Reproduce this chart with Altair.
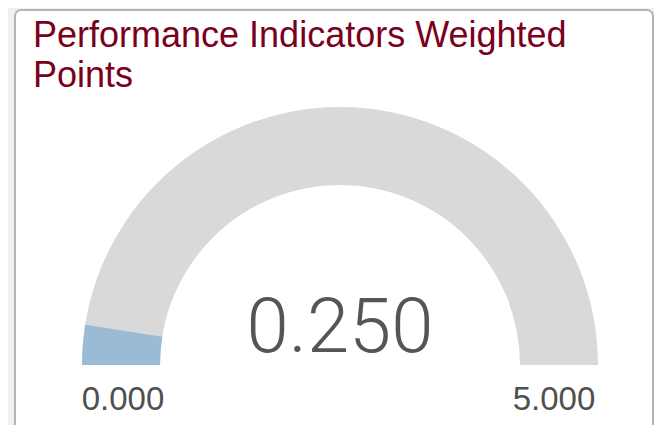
import math
import altair as alt
import pandas as pd

# ---- data ----
title_lines = ["Performance Indicators Weighted", "Points"]
gauge_min = [0.0]
gauge_max = [5.0]
gauge_value = [0.25]

W, H = 646, 417
CX, CY = 332, 357          # gauge centre (chart px)
R_OUT, R_IN = 258, 180

track_df = pd.DataFrame({"start": gauge_min, "end": gauge_max})
value_df = pd.DataFrame({"start": gauge_min, "end": gauge_value})
label_df = pd.DataFrame({"vmin": gauge_min, "vmax": gauge_max, "val": gauge_value})

theta_scale = alt.Scale(domain=[gauge_min[0], gauge_max[0]],
                        range=[1.5 * math.pi, 2.5 * math.pi])

card = alt.Chart(pd.DataFrame({"k": [0]})).mark_rect(
    fill="white", stroke="#b4b4b4", strokeWidth=2, cornerRadius=6
).encode(x=alt.value(7), x2=alt.value(645), y=alt.value(2), y2=alt.value(470))

track = alt.Chart(track_df).mark_arc(radius=R_OUT, radius2=R_IN, color="#d9d9d9").encode(
    theta=alt.Theta("start:Q", scale=theta_scale, stack=None),
    theta2="end:Q",
    x=alt.value(CX), y=alt.value(CY),
)

value_arc = alt.Chart(value_df).mark_arc(radius=R_OUT, radius2=R_IN, color="#9bbbd5").encode(
    theta=alt.Theta("start:Q", scale=theta_scale, stack=None),
    theta2="end:Q",
    x=alt.value(CX), y=alt.value(CY),
)

title_layers = []
for i, line in enumerate(title_lines):
    title_layers.append(
        alt.Chart(pd.DataFrame({"line": [line]})).mark_text(
            font="Liberation Sans", fontSize=36, color="#7a0020", align="left", baseline="alphabetic"
        ).encode(text="line:N", x=alt.value(25), y=alt.value(39 + 40 * i))
    )

value_text = alt.Chart(label_df).mark_text(
    font="Roboto", fontWeight=300, fontSize=76, color="#555555", align="center", baseline="alphabetic"
).encode(text=alt.Text("val:Q", format=".3f"), x=alt.value(CX), y=alt.value(344))

min_text = alt.Chart(label_df).mark_text(
    font="Liberation Sans", fontSize=33, color="#4f4f4f", align="center", baseline="alphabetic"
).encode(text=alt.Text("vmin:Q", format=".3f"), x=alt.value(CX - (R_OUT + R_IN) / 2 + 2), y=alt.value(402))

max_text = alt.Chart(label_df).mark_text(
    font="Liberation Sans", fontSize=33, color="#4f4f4f", align="center", baseline="alphabetic"
).encode(text=alt.Text("vmax:Q", format=".3f"), x=alt.value(CX + (R_OUT + R_IN) / 2 - 5), y=alt.value(402))

chart = alt.layer(card, track, value_arc, *title_layers, value_text, min_text, max_text).properties(
    width=W, height=H, autosize=alt.AutoSizeParams(type="none"), padding=0,
    background="#f0f0f0",
).configure_view(stroke=None)

chart.save("out.html", embed_options={"renderer": "svg", "actions": False})
